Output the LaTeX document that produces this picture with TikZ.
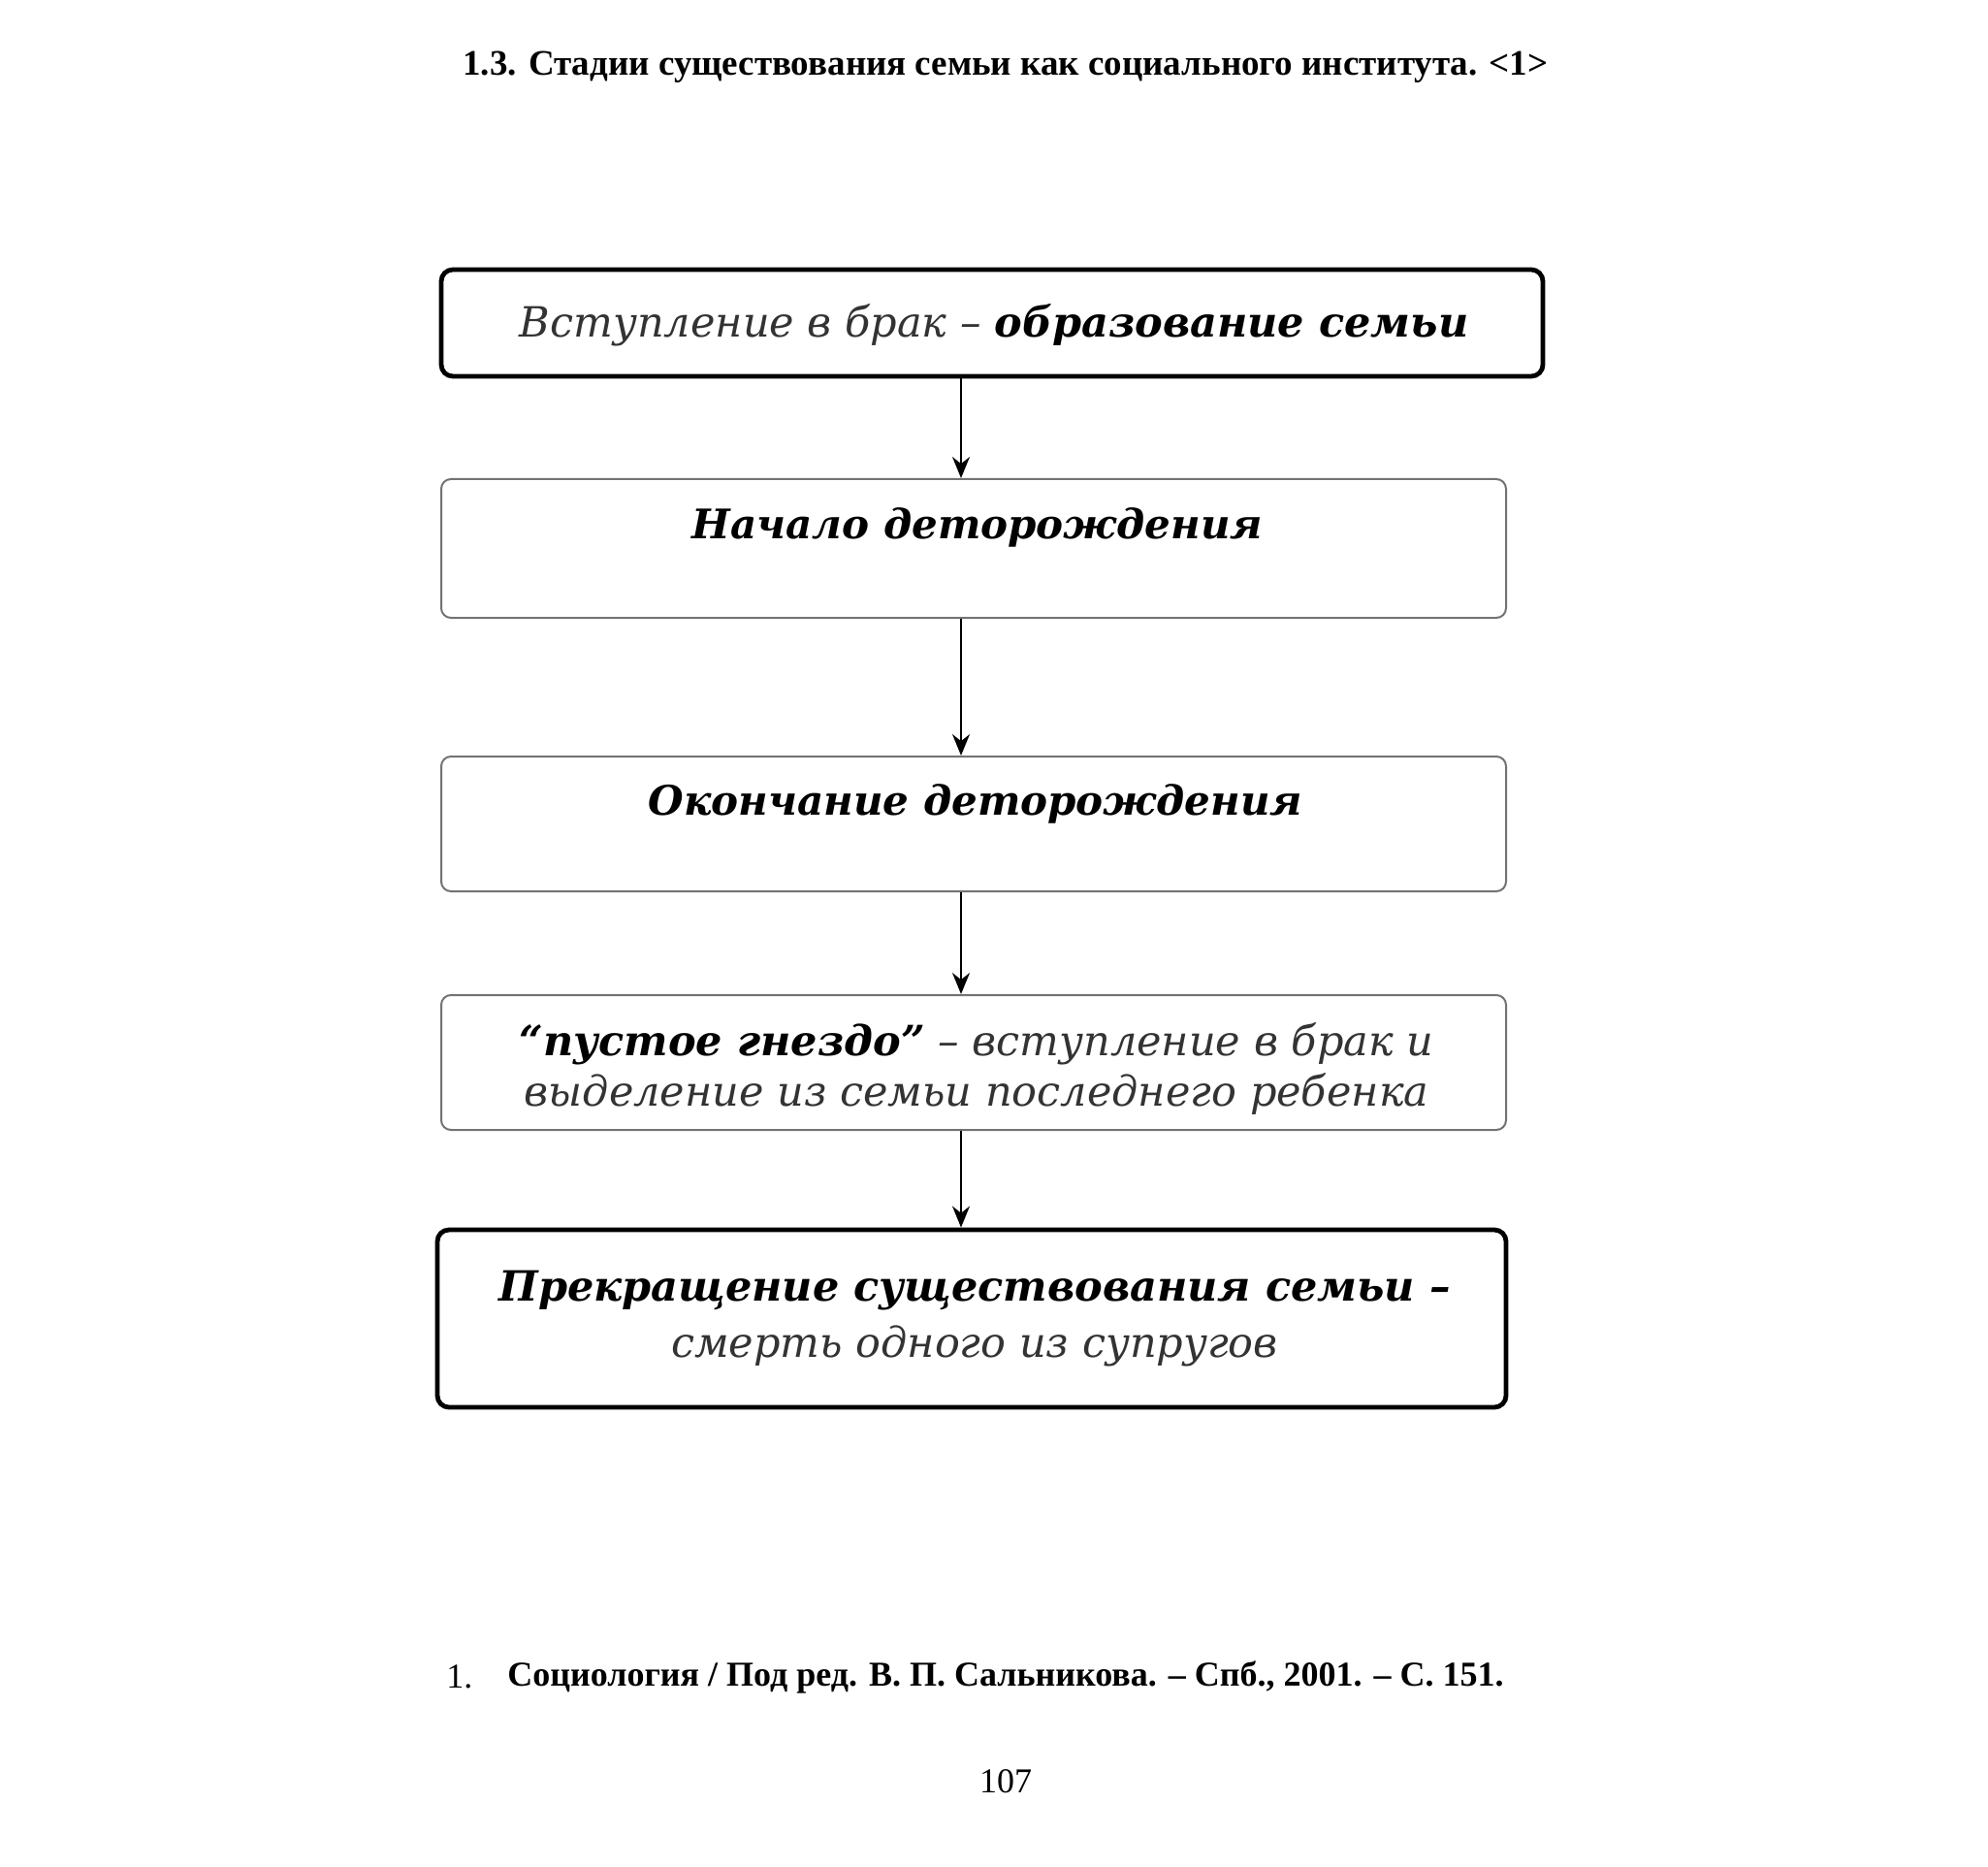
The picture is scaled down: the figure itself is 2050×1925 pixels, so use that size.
\documentclass[tikz,border=0pt]{standalone}
\usepackage{fontspec}
\setmainfont{DejaVu Serif}
\newfontfamily\tf{Liberation Serif}
\usetikzlibrary{arrows.meta}
\begin{document}
\begin{tikzpicture}[x=0.5pt,y=-0.5pt,
  thickbox/.style={draw=black,line width=2.4pt,rounded corners=6pt,inner sep=0pt},
  thinbox/.style={draw=black!55,line width=1pt,rounded corners=5pt,inner sep=0pt},
  boxtext/.style={font=\fontsize{21.5}{26}\selectfont\itshape,align=center,text=black!80,inner sep=0pt},
  boldtext/.style={boxtext,font=\fontsize{21}{26}\selectfont\bfseries\itshape,text=black},
  arr/.style={draw=black,line width=1pt,-{Stealth[length=11pt,width=9pt]}},
  hdr/.style={font=\tf\bfseries\fontsize{18.5}{20}\selectfont,inner sep=0pt}]
\path[use as bounding box,fill=white] (0,0) rectangle (2050,1925);
\node[hdr] (title) at (1037,69) {1.3. Стадии существования семьи как социального института. <1>};

\node[thickbox,minimum width=568pt,minimum height=55pt] (b1) at (1023,333) {};
\node[thinbox,minimum width=549pt,minimum height=71.5pt] (b2) at (1004,565.5) {};
\node[thinbox,minimum width=549pt,minimum height=69.5pt] (b3) at (1004,849.5) {};
\node[thinbox,minimum width=549pt,minimum height=69.5pt] (b4) at (1004,1095.5) {};
\node[thickbox,minimum width=551pt,minimum height=91.5pt] (b5) at (1002,1359.5) {};

\node[boxtext] (t1) at (1025,335) {Вступление в брак – \textbf{\color{black}образование семьи}};
\node[boldtext] (t2) at (1008,544) {Начало деторождения};
\node[boldtext] (t3) at (1006,829) {Окончание деторождения};
\node[boxtext] (t4) at (1007,1102) {\textbf{\color{black}“пустое гнездо”} – вступление в брак и\\выделение из семьи последнего ребенка};
\node[boxtext,font=\fontsize{21.5}{29}\selectfont\itshape] (t5) at (1005,1360) {\textbf{\color{black}Прекращение существования семьи –}\\смерть одного из супругов};

\coordinate (ax) at (991,0);
\draw[arr] (b1.south -| ax) -- (b2.north -| ax);
\draw[arr] (b2.south -| ax) -- (b3.north -| ax);
\draw[arr] (b3.south -| ax) -- (b4.north -| ax);
\draw[arr] (b4.south -| ax) -- (b5.north -| ax);

\node[font=\tf\fontsize{18}{20}\selectfont,inner sep=0pt,anchor=west] (fn1) at (460,1729) {1.};
\node[hdr,font=\tf\bfseries\fontsize{18}{20}\selectfont,anchor=west] (fn) at (523,1729) {Социология / Под ред. В. П. Сальникова. – Спб., 2001. – С. 151.};
\node[font=\tf\fontsize{18}{20}\selectfont,inner sep=0pt] (pg) at (1037,1837) {107};
\end{tikzpicture}
\end{document}
